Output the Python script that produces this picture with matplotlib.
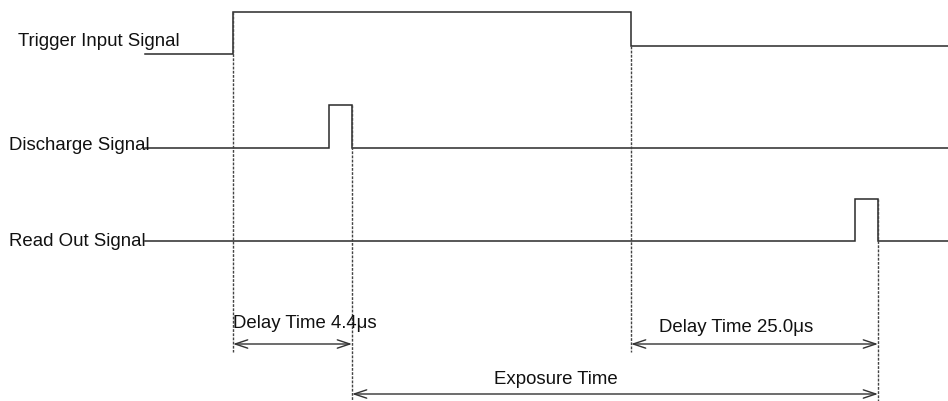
import matplotlib
matplotlib.use("Agg")
import matplotlib.pyplot as plt

# ---- data (pixel-space timing diagram) ----
signal_names = ["Trigger Input Signal", "Discharge Signal", "Read Out Signal"]
label_pos_x = [18, 9, 9]
label_pos_y = [42, 145, 241]

trigger_x = [145, 233, 233, 631, 631, 948]
trigger_y = [54, 54, 12, 12, 46, 46]

discharge_x = [145, 329, 329, 352, 352, 948]
discharge_y = [148, 148, 105, 105, 148, 148]

readout_x = [145, 855, 855, 878, 878, 948]
readout_y = [241, 241, 199, 199, 241, 241]

guide_x = [233, 352, 631, 878]
guide_top = [12, 105, 46, 199]
guide_bottom = [352, 401, 352, 401]

arrow_labels = ["Delay Time 4.4μs", "Delay Time 25.0μs", "Exposure Time"]
arrow_start = [233, 631, 352]
arrow_end = [352, 878, 878]
arrow_y = [344, 344, 394]
text_x = [305, 736, 556]
text_y = [323, 327, 380]

fig = plt.figure(figsize=(9.48, 4.01), dpi=100)
ax = fig.add_axes([0, 0, 1, 1])
ax.set_xlim(0, 948)
ax.set_ylim(401, 0)
ax.axis("off")

font = ["Liberation Sans", "DejaVu Sans"]
lc = "#2a2a2a"

for xs, ys in [(trigger_x, trigger_y), (discharge_x, discharge_y), (readout_x, readout_y)]:
    ax.plot(xs, ys, color=lc, lw=1.1, solid_joinstyle="miter")

for gx, gt, gb in zip(guide_x, guide_top, guide_bottom):
    ax.plot([gx, gx], [gt, gb], color="#444444", lw=1.0, ls=(0, (2, 1)))

for name, lx, ly in zip(signal_names, label_pos_x, label_pos_y):
    ax.text(lx, ly, name, fontsize=13.4, family=font, ha="left", va="center", color="#111111")

for lab, xs, xe, ay, tx, ty in zip(arrow_labels, arrow_start, arrow_end, arrow_y, text_x, text_y):
    ax.annotate("", xy=(xe, ay), xytext=(xs, ay),
                arrowprops=dict(arrowstyle="<->,head_length=0.9,head_width=0.3",
                                color="#333333", lw=1.0, shrinkA=0, shrinkB=0))
    ax.text(tx, ty, lab, fontsize=13.4, family=font, ha="center", va="center", color="#111111")

fig.savefig("out.png", dpi=100)
